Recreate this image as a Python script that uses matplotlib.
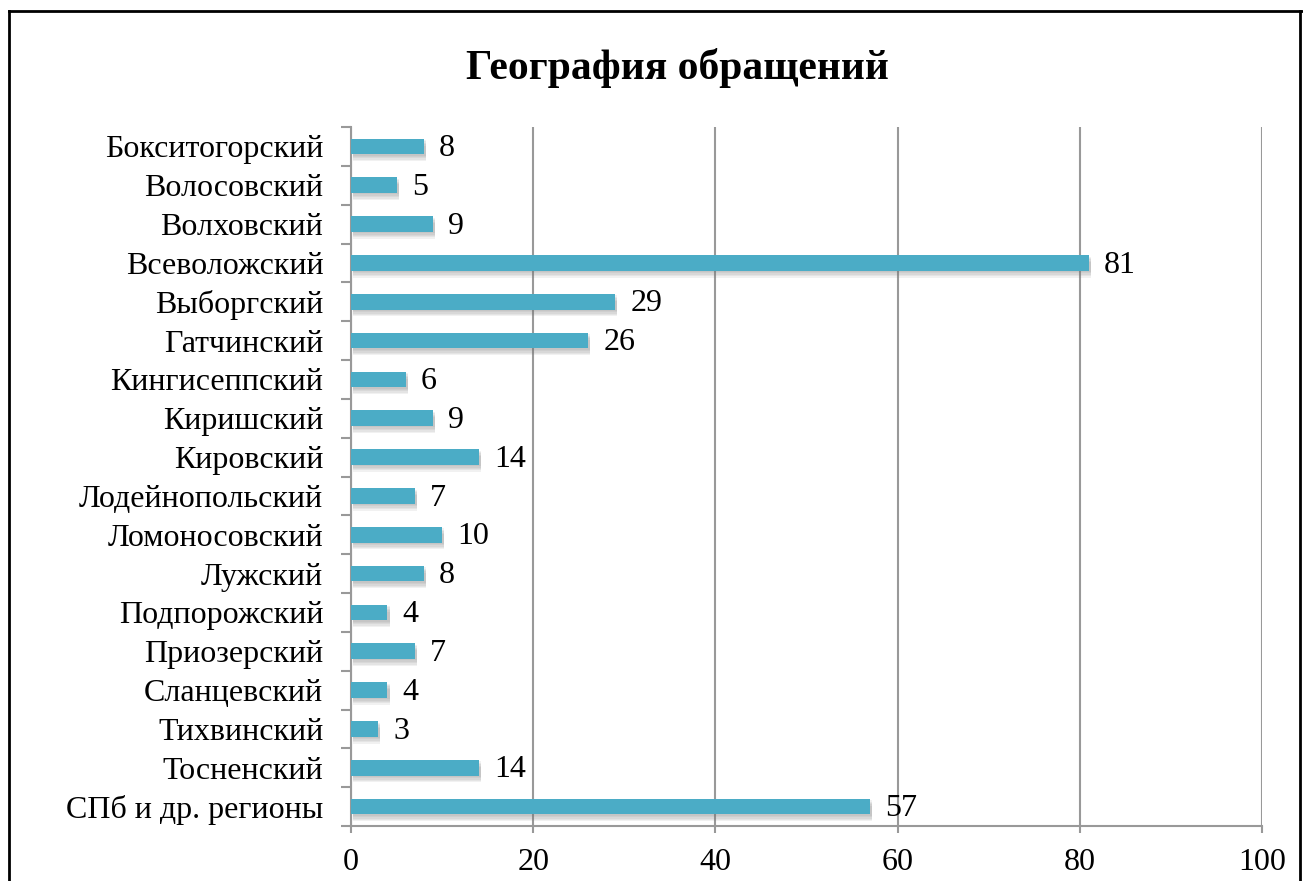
import matplotlib.pyplot as plt
import matplotlib.patheffects as pe
from matplotlib.lines import Line2D

plt.rcParams['font.family'] = ['Liberation Serif', 'DejaVu Serif']

districts = ["Бокситогорский", "Волосовский", "Волховский", "Всеволожский",
             "Выборгский", "Гатчинский", "Кингисеппский", "Киришский",
             "Кировский", "Лодейнопольский", "Ломоносовский", "Лужский",
             "Подпорожский", "Приозерский", "Сланцевский", "Тихвинский",
             "Тосненский", "СПб и др. регионы"]
counts = [8, 5, 9, 81, 29, 26, 6, 9, 14, 7, 10, 8, 4, 7, 4, 3, 14, 57]
x_ticks = [0, 20, 40, 60, 80, 100]

fig = plt.figure(figsize=(13.03, 8.81), dpi=100)
ax = fig.add_axes([351 / 1303, 1 - 826 / 881, 911 / 1303, 699 / 881])

pos = list(range(len(districts)))[::-1]
bars = ax.barh(pos, counts, height=0.4, color='#4BACC6', zorder=3)
# soft drop shadow, several faint layers
shadow = [pe.SimplePatchShadow(offset=(1.5, -k), shadow_rgbFace='#777777', alpha=0.1)
          for k in (1, 2, 3, 4, 5)]
for b in bars:
    b.set_path_effects(shadow + [pe.Normal()])

for p, v in zip(pos, counts):
    ax.annotate(str(v), (v, p), xytext=(11, -1.5), textcoords='offset points',
                va='center', ha='left', fontsize=23)

ax.set_xlim(0, 100)
ax.set_ylim(-0.5, len(districts) - 0.5)
ax.set_xticks(x_ticks)
ax.set_xticklabels([str(t) for t in x_ticks], fontsize=23)
ax.set_yticks(pos)
ax.set_yticklabels(districts, fontsize=23)
ax.set_yticks([p + 0.5 for p in range(len(districts))] + [-0.5], minor=True)

ax.tick_params(axis='y', which='major', length=0, pad=20)
ax.tick_params(axis='y', which='minor', length=7, color='#999999', width=1.5)
ax.tick_params(axis='x', length=5, color='#999999', width=1.5, pad=11)

ax.grid(axis='x', color='#999999', linewidth=1.5, zorder=0)
for s in ['top', 'right']:
    ax.spines[s].set_visible(False)
for s in ['left', 'bottom']:
    ax.spines[s].set_color('#999999')
    ax.spines[s].set_linewidth(1.5)

fig.text(677 / 1303, 1 - 68 / 881, "География обращений", fontsize=30,
         fontweight='bold', ha='center', va='center')

# chart frame
W, H = 1303, 881
fig.add_artist(Line2D([8.5 / W, 8.5 / W], [0, 1 - 11 / H], color='black', lw=2))
fig.add_artist(Line2D([8.5 / W, 1], [1 - 11 / H, 1 - 11 / H], color='black', lw=2))
fig.add_artist(Line2D([1300 / W, 1300 / W], [0, 1 - 11 / H], color='black', lw=2))

fig.savefig('out.png', dpi=100)
